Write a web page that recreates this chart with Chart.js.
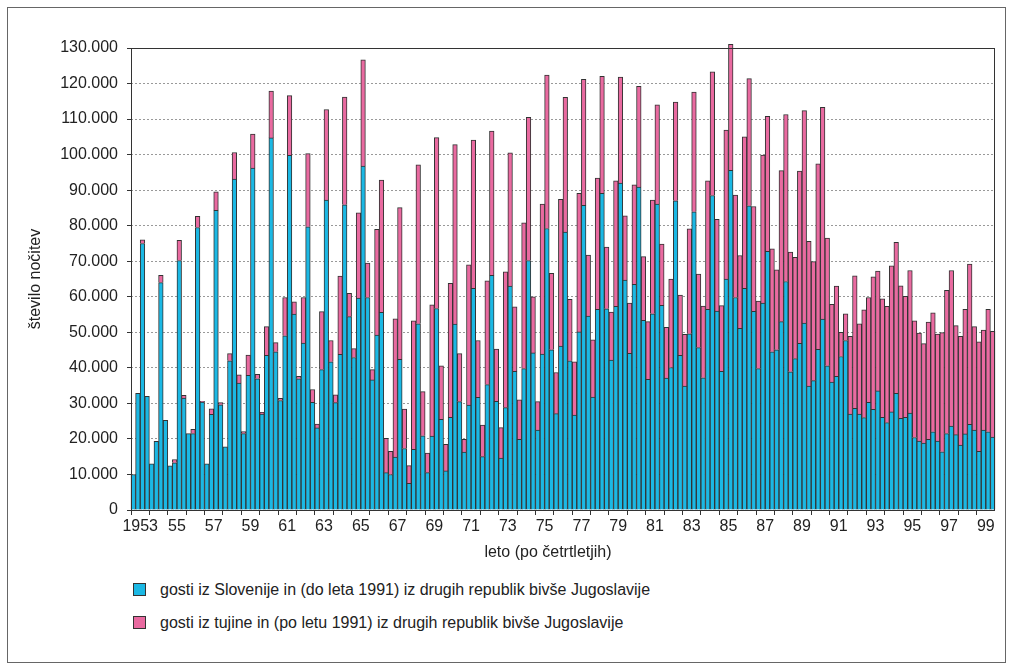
<!DOCTYPE html>
<html>
<head>
<meta charset="utf-8">
<script src="https://cdn.jsdelivr.net/npm/chart.js@4.4.0/dist/chart.umd.min.js"></script>
<style>
  body { margin: 0; background: #fff; font-family: "Liberation Sans", Arial, sans-serif; }
  #frame { position: absolute; left: 7px; top: 7px; width: 999px; height: 656px; border: 1px solid #666; box-sizing: border-box; }
  #wrap { position: absolute; left: 0; top: 0; width: 1014px; height: 570px; }
  .leg { position: absolute; left: 133px; font-size: 16px; color: #222; line-height: 18px; }
  .leg .box { display: inline-block; width: 11px; height: 11px; border: 1px solid #333; vertical-align: -1px; margin-right: 14px; }
</style>
</head>
<body>
<div id="frame"></div>
<div id="wrap"><canvas id="canvas" width="1014" height="570"></canvas></div>
<div class="leg" style="top:581px"><span class="box" style="background:#1bb8e4"></span>gosti iz Slovenije in (do leta 1991) iz drugih republik bivše Jugoslavije</div>
<div class="leg" style="top:614px"><span class="box" style="background:#e96aa0"></span>gosti iz tujine in (po letu 1991) iz drugih republik bivše Jugoslavije</div>
<script>
// quarterly values 1953 - 1999, four per year
const slovenci = [
  10000, 32800, 75000, 32000,
  13000, 19300, 64000, 25200,
  12400, 13300, 70200, 31500,
  21500, 21500, 79500, 30400,
  13000, 26900, 84300, 29600,
  17800, 42000, 93100, 35700,
  21500, 37900, 96200, 36900,
  27000, 43500, 104700, 44500,
  30800, 49000, 99800, 55100,
  36900, 47000, 79700, 30300,
  23100, 39500, 87200, 41700,
  30200, 43800, 85900, 54400,
  42900, 59600, 96800, 59800,
  36600, 49200, 55600, 10500,
  10000, 14900, 42400, 17300,
  7500, 17100, 52400, 20900,
  10500, 20800, 56700, 25500,
  11000, 26100, 52300, 30500,
  16300, 29500, 62400, 31700,
  15000, 35300, 66000, 30600,
  14600, 28800, 63000, 39000,
  19900, 39800, 70200, 44200,
  22500, 43900, 79200, 45100,
  27100, 46100, 78200, 42000,
  26700, 50100, 85700, 54600,
  31800, 56500, 89100, 56600,
  42200, 57300, 92000, 64700,
  44100, 63500, 90900, 53400,
  36800, 55200, 86100, 57600,
  37100, 40100, 87000, 43500,
  34900, 49600, 83900, 45700,
  37200, 56500, 88500, 56000,
  39000, 65000, 95600, 59800,
  51100, 62400, 85600, 55900,
  39800, 58200, 72800, 44500,
  45100, 53000, 64300, 38900,
  42600, 46900, 52600, 34900,
  36400, 45200, 53700, 40600,
  36000, 37600, 43200, 47700,
  27000, 28600, 27000, 26000,
  30300, 28300, 33500, 26100,
  24600, 27600, 32800, 25800,
  26100, 27300, 20400, 19400,
  18800, 19900, 22000, 19400,
  16400, 21500, 23600, 21200,
  18300, 21400, 24100, 22500,
  16500, 22500, 22000, 20500
];
const tujci = [
  0, 0, 1000, 0,
  0, 0, 2000, 0,
  0, 900, 5700, 800,
  0, 1200, 3100, 200,
  0, 1600, 5200, 600,
  0, 2000, 7500, 2300,
  600, 5700, 9600, 1300,
  500, 8100, 13200, 2600,
  600, 10800, 16800, 3500,
  700, 12800, 20600, 3600,
  1100, 16300, 25500, 6000,
  2200, 22000, 30300, 6600,
  2500, 24000, 29900, 9700,
  2900, 29800, 37200, 9700,
  6500, 38900, 42700, 11100,
  5000, 36100, 44700, 12400,
  5500, 36900, 48100, 15100,
  7500, 37700, 50500, 13500,
  3600, 39500, 41700, 16000,
  8900, 29200, 40600, 14700,
  8600, 38200, 37500, 18200,
  11100, 41000, 40300, 15800,
  8000, 42200, 43200, 21500,
  11600, 41300, 37900, 17300,
  15000, 39000, 35500, 17100,
  16100, 36900, 32900, 17400,
  13500, 35300, 29800, 18100,
  14100, 28000, 28300, 17900,
  16200, 32000, 27900, 17200,
  14300, 24900, 27800, 17000,
  14500, 29500, 33700, 20700,
  20200, 36100, 34800, 25800,
  18500, 41900, 35400, 28800,
  20500, 42600, 35800, 29500,
  19000, 41700, 38000, 29000,
  22500, 42500, 47000, 33700,
  28500, 48500, 59800, 40700,
  33500, 52200, 59600, 35900,
  21900, 25400, 6800, 7500,
  21900, 37300, 25400, 30300,
  29500, 37300, 33700, 33300,
  32700, 41100, 42500, 37300,
  34000, 40100, 32800, 30400,
  28000, 33000, 33500, 30100,
  33500, 40300, 43800, 30700,
  30600, 35100, 45100, 29100,
  30800, 28100, 34500, 29800
];
const tickLabels = ['1953', '55', '57', '59', '61', '63', '65', '67', '69', '71', '73', '75',
                    '77', '79', '81', '83', '85', '87', '89', '91', '93', '95', '97', '99'];
const firstYear = 1953;
const xTitle = 'leto (po četrtletjih)';

const categories = [];
for (let i = 0; i < slovenci.length; i++) {
    categories.push((firstYear + Math.floor(i / 4)) + '/' + (i % 4 + 1));
}

const txt = '#222';
const fnt = {family: '"Liberation Sans", Arial, sans-serif', size: 16};

// frame round the plot area + x axis title (sits a bit left of the plot centre)
const boxPlugin = {
    id: 'box',
    afterDraw(chart) {
        const {ctx, chartArea: a} = chart;
        ctx.save();
        ctx.strokeStyle = '#333';
        ctx.lineWidth = 1;
        ctx.strokeRect(Math.round(a.left) + 0.5, Math.round(a.top) + 0.5,
                       Math.round(a.right - a.left) - 1, Math.round(a.bottom - a.top));
        ctx.fillStyle = txt;
        ctx.font = '16px "Liberation Sans", Arial, sans-serif';
        ctx.textAlign = 'center';
        ctx.textBaseline = 'middle';
        ctx.fillText(xTitle, 548, 553);
        ctx.restore();
    }
};

new Chart(document.getElementById('canvas'), {
    type: 'bar',
    data: {
        labels: categories,
        datasets: [
            {
                label: 'gosti iz Slovenije in (do leta 1991) iz drugih republik bivše Jugoslavije',
                data: slovenci,
                backgroundColor: '#1bb8e4',
                borderColor: '#333',
                borderWidth: 1,
                barPercentage: 1,
                categoryPercentage: 1,
                clip: false
            },
            {
                label: 'gosti iz tujine in (po letu 1991) iz drugih republik bivše Jugoslavije',
                data: tujci,
                backgroundColor: '#e96aa0',
                borderColor: '#333',
                borderWidth: 1,
                barPercentage: 1,
                categoryPercentage: 1,
                clip: false
            }
        ]
    },
    options: {
        responsive: false,
        animation: false,
        layout: {padding: {top: 48, right: 19, left: 0, bottom: 0}},
        plugins: {
            legend: {display: false},
            tooltip: {enabled: false}
        },
        scales: {
            x: {
                stacked: true,
                afterFit(scale) { scale.height = 60; },
                border: {display: false},
                grid: {
                    drawOnChartArea: false,
                    offset: true,
                    tickLength: 5,
                    tickColor: (ctx) => ctx.index % 4 === 0 ? '#333' : 'rgba(0,0,0,0)'
                },
                ticks: {
                    autoSkip: false,
                    maxRotation: 0,
                    minRotation: 0,
                    labelOffset: 2.3,
                    padding: 2,
                    color: txt,
                    font: fnt,
                    callback: (v, i) => i % 8 === 1 ? tickLabels[(i - 1) / 8] : ''
                }
            },
            y: {
                stacked: true,
                min: 0,
                max: 130000,
                afterFit(scale) { scale.width = 131; },
                border: {display: false, dash: [2, 2]},
                grid: {
                    color: '#999',
                    tickLength: 4,
                    tickColor: '#333'
                },
                ticks: {
                    stepSize: 10000,
                    padding: 9,
                    color: txt,
                    font: fnt,
                    callback: (v) => v === 0 ? '0' : (v / 1000) + '.000'
                },
                title: {
                    display: true,
                    text: 'število nočitev',
                    color: txt,
                    font: fnt,
                    padding: {top: 26, bottom: 0}
                }
            }
        }
    },
    plugins: [boxPlugin]
});
</script>
</body>
</html>
